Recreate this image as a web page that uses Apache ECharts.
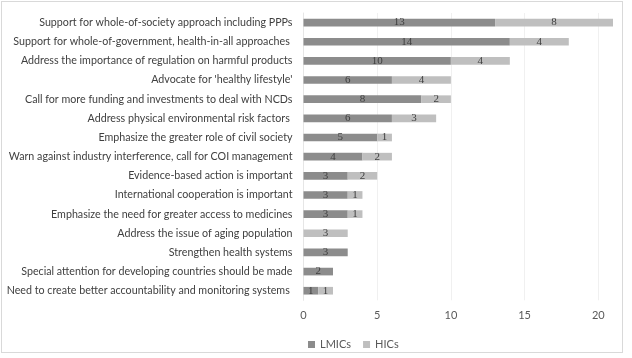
<!DOCTYPE html>
<html>
<head>
<meta charset="utf-8">
<script src="https://cdn.jsdelivr.net/npm/echarts@6/dist/echarts.min.js"></script>
<style>
    html, body { margin: 0; padding: 0; background: #fff; }
    #frame { position: absolute; left: 1px; top: 1px; width: 622px; height: 352px; border: 1px solid #d9d9d9; box-sizing: border-box; }
    #chart { position: absolute; left: 0; top: 0; width: 632px; height: 358px; }
</style>
</head>
<body>
<div id="frame"></div>
<div id="chart"></div>
<script>
// #region Data
const categories = [
    "Support for whole-of-society approach including PPPs",
    "Support for whole-of-government, health-in-all approaches ",
    "Address the importance of regulation on harmful products",
    "Advocate for 'healthy lifestyle'",
    "Call for more funding and investments to deal with NCDs",
    "Address physical environmental risk factors ",
    "Emphasize the greater role of civil society",
    "Warn against industry interference, call for COI management",
    "Evidence-based action is important",
    "International cooperation is important",
    "Emphasize the need for greater access to medicines",
    "Address the issue of aging population",
    "Strengthen health systems",
    "Special attention for developing countries should be made",
    "Need to create better accountability and monitoring systems "
];
const lmics = [13, 14, 10, 6, 8, 6, 5, 4, 3, 3, 3, 0, 3, 2, 1];
const hics = [8, 4, 4, 4, 2, 3, 1, 2, 2, 1, 1, 3, 0, 0, 1];
const xTicks = [0, 5, 10, 15, 20];
// #endregion

const chart = echarts.init(document.getElementById("chart"), null, { renderer: "canvas" });

// zero counts get no bar and no label
const toBar = arr => arr.map(v => (v === 0 ? "-" : v));

const barLabel = {
    show: true,
    position: "inside",
    fontFamily: "Liberation Serif",
    fontSize: 11,
    color: "#404040"
};

const option = {
    animation: false,
    backgroundColor: "transparent",
    grid: { left: 303.5, right: 19, top: 13, bottom: 57.7, outerBoundsMode: "none", containLabel: false },
    legend: {
        left: 303,
        top: 334,
        itemWidth: 7,
        itemHeight: 7,
        itemGap: 12,
        icon: "rect",
        textStyle: { fontFamily: "Lato", fontSize: 11, color: "#595959" },
        data: ["LMICs", "HICs"]
    },
    xAxis: {
        type: "value",
        min: 0,
        max: 21,
        interval: 5,
        axisLine: { show: false },
        axisTick: { show: false },
        axisLabel: {
            showMaxLabel: false,
            margin: 10,
            fontFamily: "Lato",
            fontSize: 11,
            color: "#595959",
            formatter: v => (xTicks.includes(v) ? String(v) : "")
        },
        splitLine: { show: true, showMaxLine: false, lineStyle: { color: "#f0f0f0" } }
    },
    yAxis: {
        type: "category",
        inverse: true,
        data: categories,
        axisLine: { show: true, lineStyle: { color: "#e6e6e6" } },
        axisTick: { show: false },
        axisLabel: {
            margin: 11,
            fontFamily: "Lato",
            fontSize: 10.7,
            color: "#404040"
        }
    },
    series: [
        {
            name: "LMICs",
            type: "bar",
            stack: "total",
            barWidth: "40%",
            itemStyle: { color: "#8c8c8c" },
            label: barLabel,
            data: toBar(lmics)
        },
        {
            name: "HICs",
            type: "bar",
            stack: "total",
            barWidth: "40%",
            itemStyle: { color: "#bfbfbf" },
            label: barLabel,
            data: toBar(hics)
        }
    ]
};

chart.setOption(option);
</script>
</body>
</html>
